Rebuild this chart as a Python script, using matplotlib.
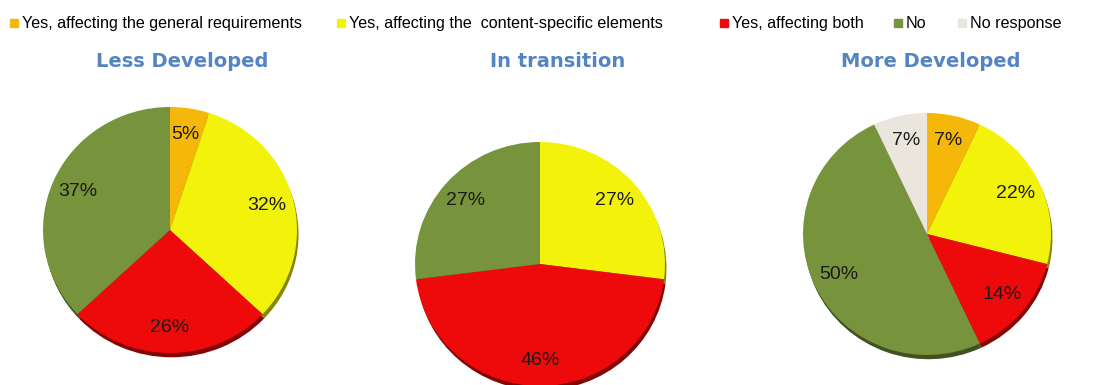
import numpy as np
import matplotlib.pyplot as plt
from matplotlib.patches import Rectangle
from matplotlib.colors import to_rgb

plt.rcParams['font.family'] = ['Liberation Sans', 'DejaVu Sans']

categories = ['Yes, affecting the general requirements',
              'Yes, affecting the  content-specific elements',
              'Yes, affecting both', 'No', 'No response']
colors = ['#F5B80A', '#F2F20A', '#EE0A0A', '#77933C', '#EAE6DD']

groups = ['Less Developed', 'In transition', 'More Developed']
less_developed = [5, 32, 26, 37, 0]
in_transition = [0, 27, 46, 27, 0]
more_developed = [7, 22, 14, 50, 7]
shares = [less_developed, in_transition, more_developed]

W, H = 1094, 385
fig = plt.figure(figsize=(W / 100, H / 100), dpi=100)

# pie placement in pixels: centre x, centre y (from top), x radius, y radius
pie_boxes = [(170, 230, 127, 123), (540, 264, 125, 122), (927, 234, 124, 121)]
title_x = [182, 558, 931]


def darker(c, f=0.55):
    return tuple(v * f for v in to_rgb(c))


for vals, (cx, cy, rx, ry), name, tx in zip(shares, pie_boxes, groups, title_x):
    ax = fig.add_axes([(cx - rx) / W, (H - cy - ry) / H, 2 * rx / W, 2 * ry / H])
    # dark copy underneath gives the drop-shadow rim
    sh, _ = ax.pie(vals, colors=[darker(c) for c in colors], startangle=90,
                   counterclock=False, center=(0.012, -0.035),
                   wedgeprops=dict(linewidth=0))
    wedges, _, autotexts = ax.pie(
        vals, colors=colors, startangle=90, counterclock=False,
        autopct=lambda p: f'{p:.0f}%' if p > 0.5 else '',
        pctdistance=0.79, wedgeprops=dict(linewidth=0),
        textprops=dict(fontsize=14, color='#1a1a1a'))
    for w in list(sh) + list(wedges):
        w.set_clip_on(False)
    ax.set_xlim(-1, 1)
    ax.set_ylim(-1, 1)
    ax.set_aspect('auto')
    ax.axis('off')
    fig.text(tx / W, 1 - 67 / H, name, ha='center', va='baseline',
             fontsize=14, fontweight='bold', color='#5585C0',
             family='DejaVu Sans')

# legend row along the top
legend_x = [10, 337, 720, 894, 958]
for x, lab, c in zip(legend_x, categories, colors):
    fig.patches.append(Rectangle((x / W, 1 - 27 / H), 8 / W, 8 / H,
                                 transform=fig.transFigure, color=c,
                                 clip_on=False))
    fig.text((x + 12) / W, 1 - 28 / H, lab, ha='left', va='baseline',
             fontsize=11.6, color='black')

fig.savefig('out.png', dpi=100)
